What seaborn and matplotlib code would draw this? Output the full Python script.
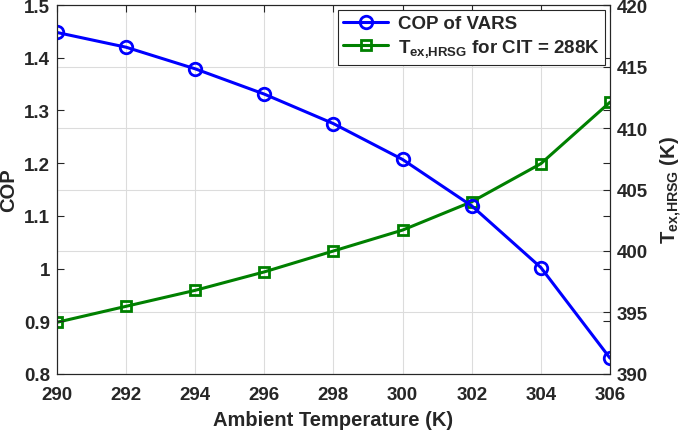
import matplotlib
matplotlib.use('Agg')
import matplotlib.pyplot as plt
import seaborn as sns

# ── Data ──────────────────────────────────────────────
ambient_temp = [290, 292, 294, 296, 298, 300, 302, 304, 306]
cop_vars = [1.448, 1.420, 1.379, 1.331, 1.275, 1.207, 1.119, 1.002, 0.830]
t_ex_hrsg = [394.2, 395.5, 396.8, 398.3, 400.0, 401.7, 404.0, 407.1, 412.1]

cop_ticks = [0.8, 0.9, 1.0, 1.1, 1.2, 1.3, 1.4, 1.5]
cop_tick_labels = ['0.8', '0.9', '1', '1.1', '1.2', '1.3', '1.4', '1.5']
t_ticks = [390, 395, 400, 405, 410, 415, 420]
x_ticks = [290, 292, 294, 296, 298, 300, 302, 304, 306]

# ── Style ─────────────────────────────────────────────
sns.set_style('white')
plt.rcParams['font.family'] = ['Liberation Sans', 'DejaVu Sans']
plt.rcParams['font.weight'] = 'bold'
plt.rcParams['axes.labelweight'] = 'bold'
plt.rcParams['mathtext.fontset'] = 'custom'
plt.rcParams['mathtext.rm'] = 'Liberation Sans:bold'
plt.rcParams['mathtext.it'] = 'Liberation Sans:bold'
plt.rcParams['mathtext.bf'] = 'Liberation Sans:bold'

axis_col = '#262626'
grid_col = '#dcdcdc'
tick_fs = 13.5
label_fs = 14.5

fig, ax = plt.subplots(figsize=(6.85, 4.31), dpi=100)
ax2 = ax.twinx()
# left axis (blue) drawn on top, right axis holds grid and green line
ax.set_zorder(ax2.get_zorder() + 1)
ax.patch.set_visible(False)
ax2.patch.set_visible(True)
ax2.patch.set_facecolor('white')

sns.lineplot(x=ambient_temp, y=t_ex_hrsg, ax=ax2, color='green',
             marker='s', markersize=7, markerfacecolor='none',
             markeredgecolor='green', markeredgewidth=2, linewidth=2.2)
sns.lineplot(x=ambient_temp, y=cop_vars, ax=ax, color='blue',
             marker='o', markersize=9, markerfacecolor='none',
             markeredgecolor='blue', markeredgewidth=2, linewidth=2.2)

# ── Axes ──────────────────────────────────────────────
ax.set_xlim(290, 306)
ax.set_xticks(x_ticks)
ax.set_ylim(0.8, 1.5)
ax.set_yticks(cop_ticks)
ax.set_yticklabels(cop_tick_labels)
ax2.set_ylim(390, 420)
ax2.set_yticks(t_ticks)

ax.tick_params(axis='both', direction='in', length=5, width=0.8,
               colors=axis_col, labelsize=tick_fs, top=True, right=True)
ax.tick_params(axis='x', pad=8.5)
ax.tick_params(axis='y', pad=5)
ax2.tick_params(axis='y', direction='in', length=5, width=0.8,
                colors=axis_col, labelsize=tick_fs, pad=5)

# grid from the right axis, below both lines
ax2.xaxis.set_visible(True)
ax2.tick_params(axis='x', bottom=False, top=False, labelbottom=False, labeltop=False)
ax2.grid(True, axis='both', color=grid_col, linewidth=0.8)
ax.grid(False)

for a in (ax, ax2):
    for s in a.spines.values():
        s.set_color(axis_col)
        s.set_linewidth(0.8)

for lab in ax.get_xticklabels() + ax.get_yticklabels() + ax2.get_yticklabels():
    lab.set_fontweight('bold')

ax.set_xlabel('Ambient Temperature (K)', fontsize=label_fs, color=axis_col, labelpad=5)
ax.set_ylabel('COP', fontsize=label_fs, color=axis_col, labelpad=4)
ax2.set_ylabel(r'T$_\mathrm{ex{,}HRSG}$ (K)', fontsize=label_fs, color=axis_col, labelpad=8)

# ── Legend ────────────────────────────────────────────
handles = [ax.lines[0], ax2.lines[0]]
labels = ['COP of VARS', r'T$_\mathrm{ex{,}HRSG}$ for CIT = 288K']
leg = ax.legend(handles, labels, loc='upper right', fontsize=13.5, frameon=True,
                fancybox=False, edgecolor=axis_col, framealpha=1,
                borderaxespad=0.25, handlelength=2.4, handletextpad=0.5,
                borderpad=0.3, labelspacing=0.25)
leg.get_frame().set_linewidth(0.8)
if ax2.get_legend() is not None:
    ax2.get_legend().remove()

plt.subplots_adjust(left=0.083, right=0.8905, top=0.986, bottom=0.130)
plt.savefig('out.png', dpi=100)
